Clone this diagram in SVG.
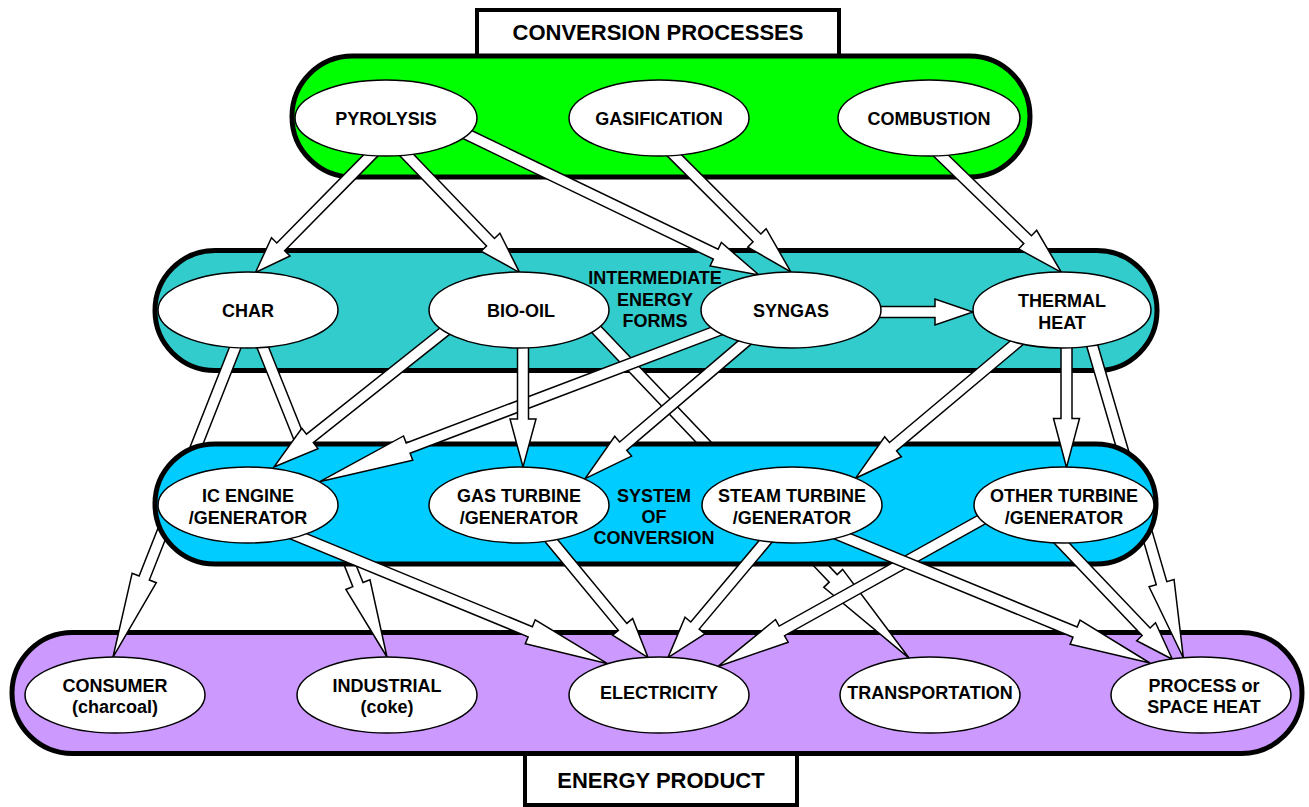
<svg xmlns="http://www.w3.org/2000/svg" width="1309" height="807" viewBox="0 0 1309 807">
<style>
.band{stroke:#000;stroke-width:5}
.lbox{fill:#fff;stroke:#000;stroke-width:4}
.node ellipse{fill:#fff;stroke:#000;stroke-width:1.5}
text{font-family:"Liberation Sans",Arial,sans-serif;font-weight:bold;font-size:18px;text-anchor:middle;fill:#000}
.title{font-size:22px}
.arrow{fill:#fff;stroke:#000;stroke-width:1.5;stroke-linejoin:miter}
</style>
<rect width="1309" height="807" fill="#fff"/>
<g id="label-conversion-processes">
<rect class="lbox" x="477" y="10" width="362" height="60"/>
<text class="title" x="658" y="40">CONVERSION PROCESSES</text>
</g>
<g id="label-energy-product">
<rect class="lbox" x="525" y="740" width="272" height="65"/>
<text class="title" x="661" y="788">ENERGY PRODUCT</text>
</g>
<g id="band-conversion"><rect class="band" x="292" y="56" width="738" height="121" rx="60.5" fill="#00FF00"/></g>
<g id="band-intermediate"><rect class="band" x="155" y="250.5" width="1002" height="120" rx="60" fill="#33CCCC"/></g>
<g id="band-product"><rect class="band" x="12" y="632.5" width="1290" height="121" rx="60.5" fill="#CC99FF"/></g>
<g id="connectors-under">
<polygon class="arrow" transform="translate(239,338) rotate(111.55)" points="0,-5.5 258,-5.5 258,-13 343,0 258,13 258,5.5 0,5.5"/>
<polygon class="arrow" transform="translate(259,338) rotate(68.14)" points="0,-5.5 265.7,-5.5 265.7,-13 343.7,0 265.7,13 265.7,5.5 0,5.5"/>
<polygon class="arrow" transform="translate(594,327) rotate(46.42)" points="0,-5.5 347,-5.5 347,-13 457,0 347,13 347,5.5 0,5.5"/>
<polygon class="arrow" transform="translate(1090,338) rotate(73.73)" points="0,-5.5 255.4,-5.5 255.4,-13 333.4,0 255.4,13 255.4,5.5 0,5.5"/>
</g>
<g id="band-system"><rect class="band" x="155" y="444" width="1001" height="120" rx="60" fill="#00CCFF"/></g>
<g id="connectors">
<polygon class="arrow" transform="translate(380,146) rotate(134.55)" points="0,-5.5 141.5,-5.5 141.5,-13 177.5,0 141.5,13 141.5,5.5 0,5.5"/>
<polygon class="arrow" transform="translate(398,146) rotate(46.14)" points="0,-5.5 133.5,-5.5 133.5,-13 175.5,0 133.5,13 133.5,5.5 0,5.5"/>
<polygon class="arrow" transform="translate(462,132) rotate(25.71)" points="0,-5.5 281.6,-5.5 281.6,-13 329.6,0 281.6,13 281.6,5.5 0,5.5"/>
<polygon class="arrow" transform="translate(665,146) rotate(45)" points="0,-5.5 130,-5.5 130,-13 178,0 130,13 130,5.5 0,5.5"/>
<polygon class="arrow" transform="translate(930,145) rotate(44.12)" points="0,-5.5 136,-5.5 136,-13 183,0 136,13 136,5.5 0,5.5"/>
<polygon class="arrow" transform="translate(870,312) rotate(0)" points="0,-5.5 65,-5.5 65,-13 103,0 65,13 65,5.5 0,5.5"/>
<polygon class="arrow" transform="translate(450,327) rotate(141.5)" points="0,-5.5 179,-5.5 179,-13 225,0 179,13 179,5.5 0,5.5"/>
<polygon class="arrow" transform="translate(722,329) rotate(159.22)" points="0,-5.5 335.7,-5.5 335.7,-13 430.7,0 335.7,13 335.7,5.5 0,5.5"/>
<polygon class="arrow" transform="translate(523,340) rotate(90)" points="0,-5.5 79,-5.5 79,-13 127,0 79,13 79,5.5 0,5.5"/>
<polygon class="arrow" transform="translate(750,338) rotate(139.54)" points="0,-5.5 166.7,-5.5 166.7,-13 216.7,0 166.7,13 166.7,5.5 0,5.5"/>
<polygon class="arrow" transform="translate(1020,340) rotate(139.95)" points="0,-5.5 165.9,-5.5 165.9,-13 214.9,0 165.9,13 165.9,5.5 0,5.5"/>
<polygon class="arrow" transform="translate(1066.5,340) rotate(90)" points="0,-5.5 78.5,-5.5 78.5,-13 127.5,0 78.5,13 78.5,5.5 0,5.5"/>
<polygon class="arrow" transform="translate(288,532) rotate(22.39)" points="0,-5.5 262,-5.5 262,-13 346,0 262,13 262,5.5 0,5.5"/>
<polygon class="arrow" transform="translate(545,533) rotate(50.42)" points="0,-5.5 121.8,-5.5 121.8,-13 161.8,0 121.8,13 121.8,5.5 0,5.5"/>
<polygon class="arrow" transform="translate(771,535) rotate(130.03)" points="0,-5.5 118.2,-5.5 118.2,-13 160.2,0 118.2,13 118.2,5.5 0,5.5"/>
<polygon class="arrow" transform="translate(988,516) rotate(150.87)" points="0,-5.5 236,-5.5 236,-13 309,0 236,13 236,5.5 0,5.5"/>
<polygon class="arrow" transform="translate(832,532) rotate(22.39)" points="0,-5.5 262.9,-5.5 262.9,-13 343.9,0 262.9,13 262.9,5.5 0,5.5"/>
<polygon class="arrow" transform="translate(1054,535) rotate(46.41)" points="0,-5.5 133.6,-5.5 133.6,-13 171.6,0 133.6,13 133.6,5.5 0,5.5"/>
</g>
<g id="label-intermediate">
<text x="655" y="284">INTERMEDIATE</text>
<text x="655" y="306">ENERGY</text>
<text x="655" y="327">FORMS</text>
</g>
<g id="label-system">
<text x="654" y="502">SYSTEM</text>
<text x="654" y="523">OF</text>
<text x="654" y="544">CONVERSION</text>
</g>
<g id="node-pyrolysis" class="node"><ellipse cx="386" cy="118" rx="91" ry="38"/><text x="386" y="124.5">PYROLYSIS</text></g>
<g id="node-gasification" class="node"><ellipse cx="659" cy="118" rx="90" ry="38"/><text x="659" y="124.5">GASIFICATION</text></g>
<g id="node-combustion" class="node"><ellipse cx="929" cy="118" rx="91" ry="38"/><text x="929" y="124.5">COMBUSTION</text></g>
<g id="node-char" class="node"><ellipse cx="248" cy="310" rx="90" ry="38"/><text x="248" y="316.5">CHAR</text></g>
<g id="node-bio-oil" class="node"><ellipse cx="519" cy="310" rx="90" ry="38"/><text x="521" y="316.5">BIO-OIL</text></g>
<g id="node-syngas" class="node"><ellipse cx="791" cy="310" rx="90" ry="38"/><text x="791" y="316.5">SYNGAS</text></g>
<g id="node-thermal-heat" class="node"><ellipse cx="1062" cy="310" rx="89" ry="38"/><text x="1062" y="307">THERMAL</text><text x="1062" y="329">HEAT</text></g>
<g id="node-ic-engine" class="node"><ellipse cx="248" cy="505" rx="90" ry="38"/><text x="248" y="502">IC ENGINE</text><text x="248" y="524">/GENERATOR</text></g>
<g id="node-gas-turbine" class="node"><ellipse cx="519" cy="505" rx="90" ry="38"/><text x="519" y="502">GAS TURBINE</text><text x="519" y="524">/GENERATOR</text></g>
<g id="node-steam-turbine" class="node"><ellipse cx="792" cy="505" rx="90" ry="38"/><text x="792" y="502">STEAM TURBINE</text><text x="792" y="524">/GENERATOR</text></g>
<g id="node-other-turbine" class="node"><ellipse cx="1064" cy="505" rx="90" ry="38"/><text x="1064" y="502">OTHER TURBINE</text><text x="1064" y="524">/GENERATOR</text></g>
<g id="node-consumer" class="node"><ellipse cx="115" cy="695" rx="90" ry="38"/><text x="115" y="692">CONSUMER</text><text x="115" y="713">(charcoal)</text></g>
<g id="node-industrial" class="node"><ellipse cx="387" cy="695" rx="90" ry="38"/><text x="387" y="692">INDUSTRIAL</text><text x="387" y="713">(coke)</text></g>
<g id="node-electricity" class="node"><ellipse cx="659" cy="695" rx="90" ry="38"/><text x="659" y="699">ELECTRICITY</text></g>
<g id="node-transportation" class="node"><ellipse cx="930" cy="695" rx="90" ry="38"/><text x="930" y="699">TRANSPORTATION</text></g>
<g id="node-process-heat" class="node"><ellipse cx="1201" cy="695" rx="90" ry="38"/><text x="1204" y="692">PROCESS or</text><text x="1204" y="713">SPACE HEAT</text></g>
</svg>
